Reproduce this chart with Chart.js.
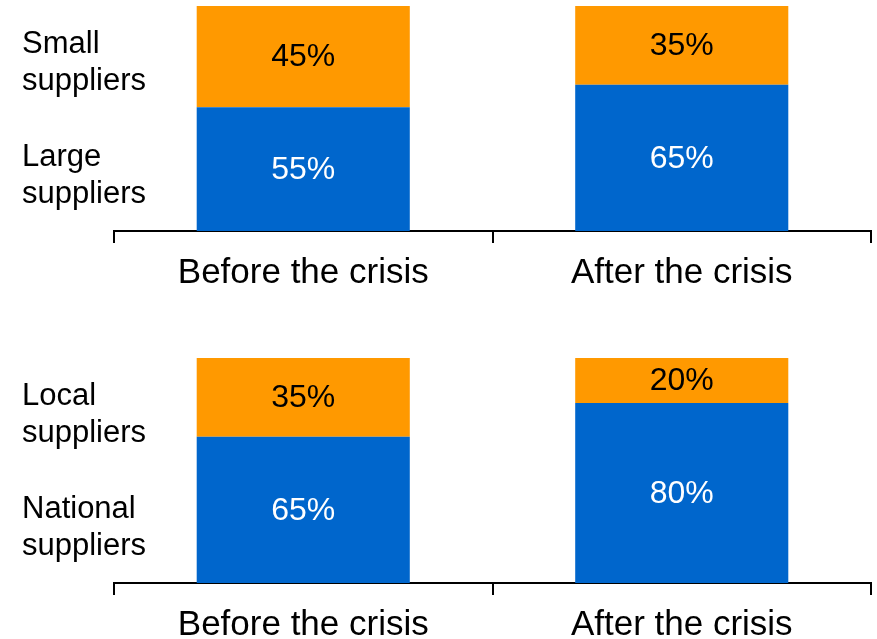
<!DOCTYPE html>
<html>
<head>
<meta charset="utf-8">
<script src="https://cdn.jsdelivr.net/npm/chart.js@4/dist/chart.umd.min.js"></script>
<style>
  html, body { margin: 0; padding: 0; background: #fff; overflow: hidden; }
  body { width: 877px; height: 639px; position: relative; }
  .panel { position: absolute; left: 0; width: 877px; height: 303px; }
  #top { top: 0; }
  #bottom { top: 352px; }
</style>
</head>
<body>
<div class="panel" id="top"><canvas id="sizeChart"></canvas></div>
<div class="panel" id="bottom"><canvas id="originChart"></canvas></div>
<script>
// Share of purchases by supplier type, before and after the crisis (percent)
const categories = ['Before the crisis', 'After the crisis'];

const largeSuppliers = [55, 65];
const smallSuppliers = [45, 35];

const nationalSuppliers = [65, 80];
const localSuppliers = [35, 20];

const sizeSeriesNames = [['Large', 'suppliers'], ['Small', 'suppliers']];
const originSeriesNames = [['National', 'suppliers'], ['Local', 'suppliers']];

const BLUE = '#0066CC';
const ORANGE = '#FF9900';
const FONT = "'Liberation Sans', Arial, sans-serif";

// Writes each segment's percentage in its middle
const valueLabels = {
  id: 'valueLabels',
  afterDatasetsDraw(chart) {
    const ctx = chart.ctx;
    ctx.save();
    ctx.font = '32px ' + FONT;
    ctx.textAlign = 'center';
    ctx.textBaseline = 'middle';
    chart.data.datasets.forEach((ds, di) => {
      chart.getDatasetMeta(di).data.forEach((bar, i) => {
        const p = bar.getProps(['x', 'y', 'base'], true);
        ctx.fillStyle = ds.labelColor;
        ctx.fillText(ds.data[i] + '%', p.x, (p.y + p.base) / 2 + 1);
      });
    });
    ctx.restore();
  }
};

// Series names written to the left of the bars
const seriesNames = {
  id: 'seriesNames',
  afterDraw(chart) {
    const ctx = chart.ctx;
    const y = chart.scales.y;
    const levels = [24.5, 74.5];
    ctx.save();
    ctx.font = '31px ' + FONT;
    ctx.fillStyle = '#000';
    ctx.textAlign = 'left';
    ctx.textBaseline = 'middle';
    chart.data.datasets.forEach((ds, di) => {
      const cy = y.getPixelForValue(levels[di]);
      ds.seriesName.forEach((line, li) => {
        ctx.fillText(line, 22, cy + (li - (ds.seriesName.length - 1) / 2) * 37);
      });
    });
    ctx.restore();
  }
};

function makeChart(id, lowerValues, upperValues, names) {
  return new Chart(document.getElementById(id), {
    type: 'bar',
    data: {
      labels: categories,
      datasets: [
        { data: lowerValues, backgroundColor: BLUE, labelColor: '#fff', seriesName: names[0] },
        { data: upperValues, backgroundColor: ORANGE, labelColor: '#000', seriesName: names[1] }
      ]
    },
    options: {
      responsive: true,
      maintainAspectRatio: false,
      animation: false,
      events: [],
      datasets: { bar: { barPercentage: 0.563, categoryPercentage: 1, borderWidth: 0 } },
      layout: { padding: { top: 6, left: 114, right: 6, bottom: 0 } },
      plugins: { legend: { display: false }, tooltip: { enabled: false } },
      scales: {
        x: {
          stacked: true,
          offset: true,
          grid: { display: true, offset: true, drawOnChartArea: false, drawTicks: true, tickLength: 12, color: '#000', lineWidth: 2 },
          border: { display: true, color: '#000', width: 2 },
          ticks: { color: '#000', padding: 9, font: { family: FONT, size: 35 } }
        },
        y: { stacked: true, display: false, min: 0, max: 100 }
      }
    },
    plugins: [valueLabels, seriesNames]
  });
}

makeChart('sizeChart', largeSuppliers, smallSuppliers, sizeSeriesNames);
makeChart('originChart', nationalSuppliers, localSuppliers, originSeriesNames);
</script>
</body>
</html>
